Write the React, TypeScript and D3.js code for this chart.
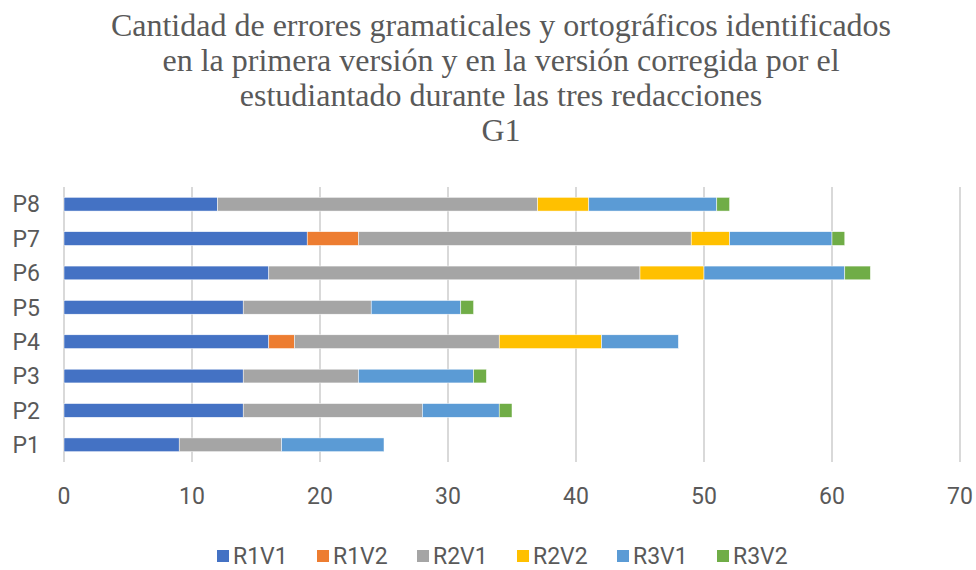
// App.tsx
import * as d3 from "d3";

const titleLines = [
  "Cantidad de errores gramaticales y ortográficos identificados",
  "en la primera versión y en la versión corregida por el",
  "estudiantado durante las tres redacciones",
  "G1",
];

const categories = ["P1", "P2", "P3", "P4", "P5", "P6", "P7", "P8"];
const seriesNames = ["R1V1", "R1V2", "R2V1", "R2V2", "R3V1", "R3V2"];
const seriesColors = ["#4472C4", "#ED7D31", "#A5A5A5", "#FFC000", "#5B9BD5", "#70AD47"];

// values per category, P1..P8
const r1v1 = [9, 14, 14, 16, 14, 16, 19, 12];
const r1v2 = [0, 0, 0, 2, 0, 0, 4, 0];
const r2v1 = [8, 14, 9, 16, 10, 29, 26, 25];
const r2v2 = [0, 0, 0, 8, 0, 5, 3, 4];
const r3v1 = [8, 6, 9, 6, 7, 11, 8, 10];
const r3v2 = [0, 1, 1, 0, 1, 2, 1, 1];

const xTicks = [0, 10, 20, 30, 40, 50, 60, 70];

const W = 976;
const H = 570;
const plot = { left: 64, right: 960, top: 187, bottom: 462 };
const textGray = "#595959";
const sans = "Roboto, 'Liberation Sans', sans-serif";

export default function App() {
  const rows = categories.map((c, i) => ({
    cat: c,
    R1V1: r1v1[i],
    R1V2: r1v2[i],
    R2V1: r2v1[i],
    R2V2: r2v2[i],
    R3V1: r3v1[i],
    R3V2: r3v2[i],
  }));

  const stacked = d3.stack<any>().keys(seriesNames)(rows);

  const x = d3.scaleLinear().domain([0, 70]).range([plot.left, plot.right]);
  const y = d3
    .scaleBand()
    .domain(categories.slice().reverse())
    .range([plot.top, plot.bottom])
    .paddingInner(0.6)
    .paddingOuter(0.3);

  const legendX0 = 217;
  const legendStep = 100;

  return (
    <svg width={W} height={H} style={{ display: "block", position: "absolute", left: 0, top: 0 }}>
      <rect width={W} height={H} fill="#fff" />
      {titleLines.map((t, i) => (
        <text
          key={i}
          x={501}
          y={36 + i * 35}
          textAnchor="middle"
          fill={textGray}
          fontFamily="'Liberation Serif', 'Times New Roman', serif"
          fontSize={32}
        >
          {t}
        </text>
      ))}

      {xTicks.map((t) => (
        <line key={t} x1={x(t)} x2={x(t)} y1={plot.top} y2={plot.bottom} stroke="#D9D9D9" strokeWidth={2} />
      ))}

      {stacked.map((s, si) =>
        s.map((d, i) =>
          d[1] - d[0] > 0 ? (
            <rect
              key={`${si}-${i}`}
              x={x(d[0])}
              y={y(d.data.cat)}
              width={x(d[1]) - x(d[0])}
              height={y.bandwidth()}
              fill={seriesColors[si]}
              stroke="#fff"
              strokeWidth={0.5}
            />
          ) : null
        )
      )}

      {categories.map((c) => (
        <text
          key={c}
          x={40}
          y={(y(c) as number) + y.bandwidth() / 2}
          dy="0.36em"
          textAnchor="end"
          fill={textGray}
          fontFamily={sans}
          fontSize={23}
        >
          {c}
        </text>
      ))}

      {xTicks.map((t) => (
        <text
          key={t}
          x={x(t)}
          y={496}
          dy="0.36em"
          textAnchor="middle"
          fill={textGray}
          fontFamily={sans}
          fontSize={23}
        >
          {t}
        </text>
      ))}

      {seriesNames.map((n, i) => (
        <g key={n} transform={`translate(${legendX0 + i * legendStep}, 556)`}>
          <rect x={0} y={-6} width={12} height={12} fill={seriesColors[i]} />
          <text x={16} y={0} dy="0.36em" fill={textGray} fontFamily={sans} fontSize={23}>
            {n}
          </text>
        </g>
      ))}
    </svg>
  );
}
